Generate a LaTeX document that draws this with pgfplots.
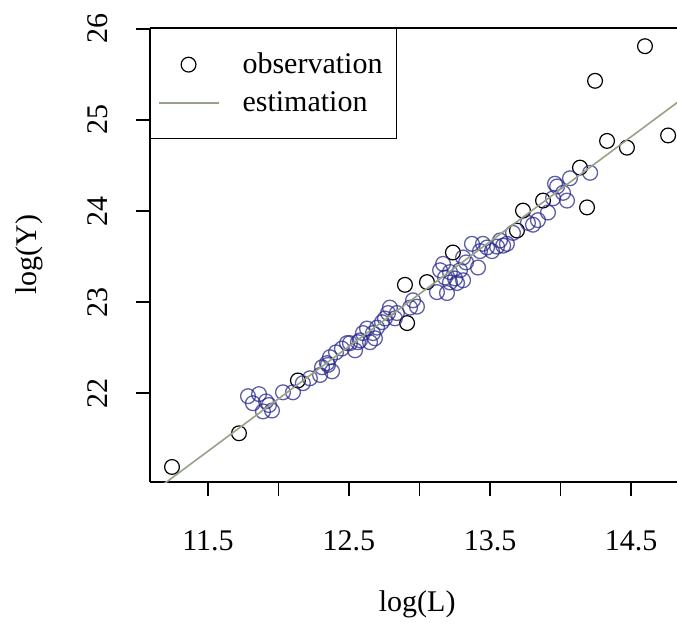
\documentclass[border=0pt]{standalone}
\usepackage{fontspec}
\setmainfont{Liberation Serif}
\usepackage{pgfplots}
\pgfplotsset{compat=1.18}
\definecolor{obsblue}{RGB}{40,40,140}
\definecolor{fitline}{RGB}{150,162,135}
\newcommand{\fs}{\fontsize{15bp}{18bp}\selectfont}
\pgfplotsset{
  obslegend/.style={legend image code/.code={%
    \draw[##1] plot[only marks] coordinates {(15bp,0bp)};
    \path[draw=none] (0bp,0bp) rectangle (42bp,0.1bp);}},
  linelegend/.style={legend image code/.code={%
    \draw[##1] (0bp,0bp) -- (30bp,0bp);
    \path[draw=none] (0bp,0bp) rectangle (42bp,0.1bp);}},
}
\begin{document}
\begin{tikzpicture}
\begin{axis}[
  name=ax,
  scale only axis,
  width=263.5bp, height=227bp,
  xmin=11.089, xmax=14.826,
  ymin=21.025, ymax=26.01,
  axis x line*=box, axis y line*=left,
  xtick pos=left, ytick pos=left,
  axis line style={black, line width=0.75bp},
  tick align=outside, major tick length=7bp,
  tick style={black, line width=0.75bp},
  xtick={11.5,12,12.5,13,13.5,14,14.5},
  xticklabels={\textrm{11.5},,\textrm{12.5},,\textrm{13.5},,\textrm{14.5}},
  ytick={22,23,24,25,26},
  yticklabels={\textrm{22},\textrm{23},\textrm{24},\textrm{25},\textrm{26}},
  xticklabel style={font=\fs, anchor=north, inner sep=0pt},
  yticklabel style={font=\fs, rotate=90, anchor=south, inner sep=0pt},
  xticklabel shift=17bp,
  yticklabel shift=14bp,
  xlabel={log(L)}, ylabel={log(Y)},
  xlabel style={font=\fs, at={(axis description cs:0.507,-0.238)}, anchor=north, inner sep=0pt},
  ylabel style={font=\fs, at={(axis description cs:-0.203,0.5)}, anchor=south, inner sep=0pt},
  legend style={at={(axis description cs:0,1)}, anchor=north west,
    draw=black, line width=0.75bp, fill=white, font=\fs,
    inner xsep=3.5bp, inner ysep=12bp, row sep=7.5bp,
    nodes={inner sep=0pt}},
  legend cell align=left,
  clip mode=individual,
]
\coordinate (bl) at (rel axis cs:0,0);
% observations (black rings)
\addplot[only marks, mark=o, mark size=3.7bp, black, mark options={line width=0.6bp}, obslegend]
  coordinates {
  (11.245,21.19) (11.720,21.56) (12.138,22.14) (12.897,23.19) (13.053,23.22)
  (12.912,22.77) (13.237,23.545) (13.691,23.786) (13.734,24.005) (13.876,24.115)
  (14.138,24.477) (14.188,24.04) (14.245,25.43) (14.330,24.77) (14.471,24.696)
  (14.599,25.81) (14.763,24.83)
  };
\addlegendentry{observation\hspace*{3.5bp}}
% observations (blue rings)
\addplot[only marks, mark=o, mark size=3.7bp, obsblue, forget plot,
  mark options={line width=0.65bp, draw opacity=0.75}]
  coordinates {
  (11.784,21.967) (11.819,21.89) (11.862,21.99) (11.912,21.91) (11.890,21.80)
  (11.954,21.81) (11.933,21.87) (12.032,22.01) (12.103,22.01) (12.173,22.11)
  (12.295,22.20) (12.309,22.285) (12.344,22.33) (12.365,22.395) (12.380,22.24)
  (12.351,22.31) (12.450,22.49) (12.486,22.55) (12.507,22.55) (12.564,22.56)
  (12.578,22.58) (12.599,22.66) (12.628,22.71) (12.649,22.56) (12.670,22.66)
  (12.699,22.72) (12.734,22.78) (12.755,22.82) (12.777,22.88) (12.790,22.94)
  (12.840,22.88) (12.933,22.94) (12.954,23.02) (12.982,22.95) (13.124,23.11)
  (13.195,23.10) (13.146,23.35) (13.167,23.42) (13.181,23.27) (13.216,23.33)
  (13.252,23.26) (13.266,23.21) (13.287,23.35) (13.309,23.24) (13.309,23.49)
  (13.372,23.64) (13.415,23.38) (13.429,23.56) (13.450,23.64) (13.479,23.60)
  (13.514,23.56) (13.550,23.61) (13.593,23.62) (13.620,23.64) (13.663,23.76)
  (13.769,23.87) (13.805,23.85) (13.840,23.90) (13.947,24.14) (13.976,24.27)
  (14.018,24.20) (14.046,24.115) (14.067,24.36) (14.210,24.42) (13.961,24.30)
  (13.330,23.436) (13.216,23.216) (12.826,22.822) (12.684,22.603) (12.543,22.471)
  (12.223,22.164) (12.408,22.449) (13.571,23.677) (13.911,23.984)
  };
% fitted line
\addplot[fitline, line width=0.8bp, no marks, linelegend]
  coordinates {(11.0,20.788) (14.9,25.275)};
\addlegendentry{estimation}
\end{axis}
\pgfresetboundingbox
\path (bl) ++(-75bp,-73.5bp) rectangle ++(338.5bp,314.5bp);
\end{tikzpicture}
\end{document}
